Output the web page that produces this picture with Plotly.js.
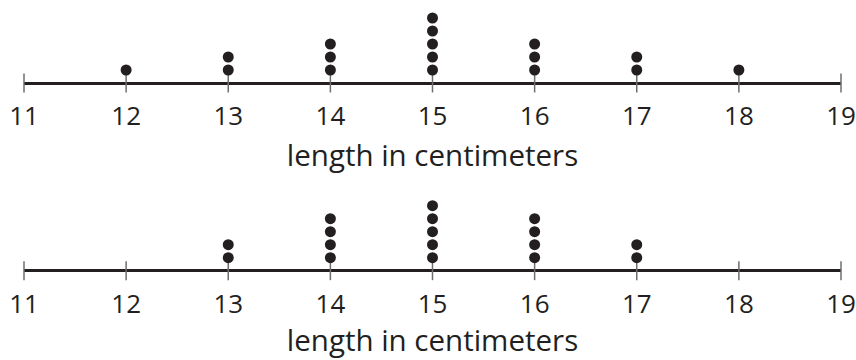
<!DOCTYPE html>
<html>
<head>
<meta charset="utf-8">
<script src="https://cdn.plot.ly/plotly-3.0.1.min.js"></script>
<style>
  html, body { margin: 0; padding: 0; background: #fff; }
  #plot { width: 856px; height: 360px; }
</style>
</head>
<body>
<div id="plot"></div>
<script>
// tick values on both number lines
const tickVals = [11, 12, 13, 14, 15, 16, 17, 18, 19];

// how many dots sit above each length (cm)
const lengthsTop = [12, 13, 14, 15, 16, 17, 18];
const countsTop = [1, 2, 3, 5, 3, 2, 1];

const lengthsBottom = [13, 14, 15, 16, 17];
const countsBottom = [2, 4, 5, 4, 2];

const axisTitle = 'length in centimeters';

// turn counts into stacked dots (one point per observation)
function stackDots(lengths, counts) {
    const x = [], y = [];
    lengths.forEach((len, i) => {
        for (let k = 1; k <= counts[i]; k++) {
            x.push(len);
            y.push(k);
        }
    });
    return { x: x, y: y };
}

const ink = '#231f20';

function dotTrace(lengths, counts, xa, ya) {
    const d = stackDots(lengths, counts);
    return {
        x: d.x, y: d.y, xaxis: xa, yaxis: ya,
        mode: 'markers', type: 'scatter', hoverinfo: 'skip',
        cliponaxis: false,
        marker: { size: 11, color: ink }
    };
}

// tick marks crossing the number line
function tickTrace(xa, ya) {
    return {
        x: tickVals, y: tickVals.map(() => 0), xaxis: xa, yaxis: ya,
        mode: 'markers', type: 'scatter', hoverinfo: 'skip',
        cliponaxis: false,
        marker: { symbol: 'line-ns', size: 13.5, line: { width: 1.5, color: '#6d6e71' } }
    };
}

const xCommon = {
    range: [11, 19],
    domain: [24 / 856, 841 / 856],
    tickmode: 'array',
    tickvals: tickVals,
    ticks: '',
    ticklabelstandoff: 15,
    showgrid: false,
    zeroline: false,
    showline: false,
    fixedrange: true,
    tickfont: { family: 'Open Sans', size: 26, color: ink },
    title: { text: axisTitle, font: { family: 'Open Sans', size: 29.5, color: ink }, standoff: 12.5 }
};

function yAxis(domain) {
    return {
        range: [0, 6],
        domain: domain,
        visible: true,
        showticklabels: false,
        ticks: '',
        showgrid: false,
        zeroline: true,
        zerolinewidth: 3,
        zerolinecolor: ink,
        fixedrange: true
    };
}

const data = [
    tickTrace('x', 'y'),
    dotTrace(lengthsTop, countsTop, 'x', 'y'),
    tickTrace('x2', 'y2'),
    dotTrace(lengthsBottom, countsBottom, 'x2', 'y2')
];

const layout = {
    width: 856,
    height: 360,
    margin: { l: 0, r: 0, t: 0, b: 0 },
    paper_bgcolor: '#fff',
    plot_bgcolor: '#fff',
    showlegend: false,
    xaxis: Object.assign({}, xCommon, { anchor: 'y' }),
    yaxis: Object.assign(yAxis([1 - 83 / 360, 1 - 5 / 360]), { anchor: 'x' }),
    xaxis2: Object.assign({}, xCommon, { anchor: 'y2' }),
    yaxis2: Object.assign(yAxis([1 - 270.7 / 360, 1 - 192.7 / 360]), { anchor: 'x2' })
};

Plotly.newPlot('plot', data, layout, { staticPlot: true });
</script>
</body>
</html>
